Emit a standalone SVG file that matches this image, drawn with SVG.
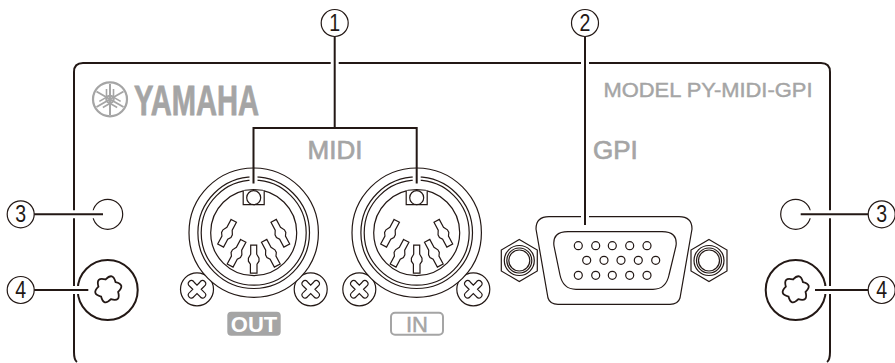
<svg xmlns="http://www.w3.org/2000/svg" xmlns:xlink="http://www.w3.org/1999/xlink" width="895" height="363" viewBox="0 0 895 363">
<style>
.k{fill:none;stroke:#231815;stroke-width:1.2}
.w{fill:#fff;stroke:#231815;stroke-width:1.2}
.b{fill:none;stroke:#231815;stroke-width:2}
.h{fill:none;stroke:#fff;stroke-width:8}
.l{fill:none;stroke:#231815;stroke-width:2}
.g{font-family:"Liberation Sans",Arial,sans-serif;fill:#a5a5a5;stroke:#a5a5a5}
.n{font-family:"Liberation Sans",Arial,sans-serif;font-size:23px;fill:#231815;text-anchor:middle}
.c{fill:#fff;stroke:#231815;stroke-width:1.2}
</style>
<defs>
<path id="pin" class="k" d="M-3-14H3V-5L5.300-1V2L3.300 5V14H-3.300V5L-5.300 2V-1L-3-5Z"/>
<g id="din">
<circle class="w" r="64.700"/><circle class="k" r="55.800"/><circle class="k" r="52.500"/><circle class="k" r="43"/>
<path fill="#fff" stroke="#231815" stroke-width="1.200" d="M-10.500-42V-28H10.500V-42"/>
<circle class="k" cy="-35" r="7"/>
<use xlink:href="#pin" y="26.500"/>
<use xlink:href="#pin" transform="translate(-17 20.500) rotate(28)"/>
<use xlink:href="#pin" transform="translate(17 20.500) rotate(-28)"/>
<use xlink:href="#pin" transform="translate(-26.500 0.500) rotate(28)"/>
<use xlink:href="#pin" transform="translate(26.500 0.500) rotate(-28)"/>
</g>
<g id="scr">
<circle class="c" r="16.500"/>
<path class="k" transform="rotate(45)" d="M-3-7Q-3.500-11 0-11Q3.500-11 3-7V-3H7Q11-3.500 11 0Q11 3.500 7 3H3V7Q3.500 11 0 11Q-3.500 11-3 7V3H-7Q-11 3.500-11 0Q-11-3.500-7-3H-3Z"/>
</g>
<g id="nut">
<path class="k" d="M0-21L18-10.500V10.500L0 21L-18 10.500V-10.500Z"/>
<circle class="k" r="15"/><circle class="k" r="12.500"/><circle class="k" r="10.500"/>
</g>
<path id="star" fill="none" stroke="#231815" stroke-width="1.500" transform="rotate(15) scale(1.2)" d="M4.250-7.360Q13-7.500 8.500 0Q13 7.500 4.250 7.360Q0 15-4.250 7.360Q-13 7.500-8.500 0Q-13-7.500-4.250-7.360Q0-15 4.250-7.360Z"/>
</defs>
<rect width="895" height="363" fill="#fff"/>
<g id="panel">
<path class="l" d="M74 352V72Q74 63 83 63H821Q830 63 830 72V352Q830 360 827 362M74 352Q74 360 77 362"/>
</g>
<g id="logo">
<circle cx="110" cy="99.300" r="17" fill="none" stroke="#a5a5a5" stroke-width="2.200"/>
<g fill="none" stroke="#a5a5a5" stroke-width="2">
<path d="M110 84V115M96.500 91.500L123.500 107M123.500 91.500L96.500 107"/>
<path id="fork" stroke-width="1.600" d="M106.500 89V99Q106.500 103 110 103Q113.500 103 113.500 99V89"/>
<use xlink:href="#fork" transform="rotate(120 110 99.300)"/>
<use xlink:href="#fork" transform="rotate(240 110 99.300)"/>
</g>
<text class="g" x="134" y="115" font-size="43" font-weight="700" stroke-width="0.800" textLength="125" lengthAdjust="spacingAndGlyphs">YAMAHA</text>
</g>
<text id="model" class="g" x="603.500" y="97.300" font-size="19.500" stroke-width="0.400" textLength="209" lengthAdjust="spacingAndGlyphs">MODEL PY-MIDI-GPI</text>
<g id="midi-out"><use xlink:href="#scr" x="197" y="289.300"/><use xlink:href="#scr" x="310.700" y="289.300"/><use xlink:href="#din" x="253.700" y="232.700"/>
<rect x="227.300" y="311.700" width="53.400" height="24" rx="4" fill="#a5a5a5"/>
<text x="254" y="331.500" font-family="Liberation Sans,Arial,sans-serif" font-size="22" font-weight="700" fill="#fff" text-anchor="middle">OUT</text></g>
<g id="midi-in"><use xlink:href="#scr" x="359.300" y="289.300"/><use xlink:href="#scr" x="473.300" y="289.300"/><use xlink:href="#din" x="416.700" y="232.700"/>
<rect x="391" y="312.700" width="52" height="22" rx="4" fill="none" stroke="#a5a5a5" stroke-width="2"/>
<text class="g" x="417" y="331.500" font-size="22" stroke-width="0.500" text-anchor="middle">IN</text></g>
<text id="midi" class="g" x="335" y="159.300" font-size="26" stroke-width="0.700" text-anchor="middle">MIDI</text>
<text id="gpi" class="g" x="593" y="159.300" font-size="26" stroke-width="0.700">GPI</text>
<g id="gpi-port">
<use xlink:href="#nut" x="519.300" y="260.500"/><use xlink:href="#nut" x="709" y="260.500"/>
<path class="w" d="M549 216.700H679Q692 216.700 692 229L680 298Q678 304.300 670 304.300H558Q550 304.300 548 298L536 229Q536 216.700 549 216.700Z"/>
<path class="k" d="M568 231.700H662Q678 231.700 676 246L669 275Q666 289.300 653 289.300H576Q563 289.300 560 275L554 246Q552 231.700 568 231.700Z"/>
<g class="k"><circle cx="578.300" cy="245.700" r="4"/><circle cx="595.700" cy="245.700" r="4"/><circle cx="612.300" cy="245.700" r="4"/><circle cx="629.700" cy="245.700" r="4"/><circle cx="647" cy="245.700" r="4"/>
<circle cx="586.700" cy="260.300" r="4"/><circle cx="604" cy="260.300" r="4"/><circle cx="621" cy="260.300" r="4"/><circle cx="638.300" cy="260.300" r="4"/><circle cx="655.700" cy="260.300" r="4"/>
<circle cx="578.300" cy="275.300" r="4"/><circle cx="595.700" cy="275.300" r="4"/><circle cx="612.300" cy="275.300" r="4"/><circle cx="629.700" cy="275.300" r="4"/><circle cx="647" cy="275.300" r="4"/></g>
</g>
<g id="holes">
<circle class="k" cx="107.700" cy="214.300" r="15"/><circle class="k" cx="795.700" cy="214.300" r="15"/>
</g>
<g id="screws">
<circle class="b" cx="107.700" cy="290" r="30"/><circle class="b" cx="795.700" cy="290" r="30"/>
<g transform="translate(108.300 289.300)"><use xlink:href="#star"/></g><g transform="translate(795.700 289.300)"><use xlink:href="#star"/></g>
</g>
<g id="connectors">
<path class="h" d="M334.700 37V70M585 37V70M34 214.300H103M34 290H88.300M868 214.300H800.700M868 290H815M253.500 175V183.500M416.700 175V183.500M585 205V225"/>
<path class="l" d="M334.700 36.500V128M253.500 183.500V128H416.700V183.500M585 36.500V225M34 214.300H103M34 290H88.300M868 214.300H800.700M868 290H815"/>
</g>
<g id="c1"><circle class="c" cx="334.700" cy="23" r="13.500"/><text class="n" transform="translate(334.700 31) scale(.85 1)">1</text></g>
<g id="c2"><circle class="c" cx="585" cy="23" r="13.500"/><text class="n" transform="translate(585 31) scale(.85 1)">2</text></g>
<g id="c3l"><circle class="c" cx="20.700" cy="214.300" r="13.500"/><text class="n" transform="translate(20.700 222.300) scale(.85 1)">3</text></g>
<g id="c4l"><circle class="c" cx="20.700" cy="290" r="13.500"/><text class="n" transform="translate(20.700 298) scale(.85 1)">4</text></g>
<g id="c3r"><circle class="c" cx="881.700" cy="214.300" r="13.500"/><text class="n" transform="translate(881.700 222.300) scale(.85 1)">3</text></g>
<g id="c4r"><circle class="c" cx="881.700" cy="290" r="13.500"/><text class="n" transform="translate(881.700 298) scale(.85 1)">4</text></g>
</svg>
